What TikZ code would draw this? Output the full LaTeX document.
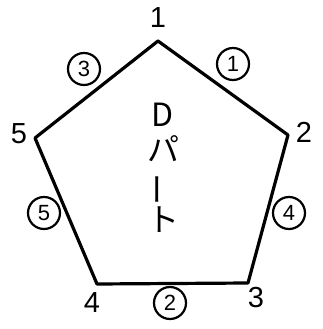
\documentclass[tikz,border=0pt]{standalone}
\usepackage{fontspec}
\usepackage{graphicx}
\usepackage{tikz}
\usetikzlibrary{positioning,calc}
\newfontfamily\jpfont{Noto Sans CJK JP}
\setmainfont{Liberation Sans}

\begin{document}
\begin{tikzpicture}[x=1pt,y=-1pt, every node/.style={font=\fontsize{29}{32}\selectfont,align=center},
  side/.style={line width=3.2pt,line join=round},
  edgeno/.style={draw,circle,line width=2.2pt,minimum size=32pt,inner sep=0pt,font=\fontsize{22}{24}\selectfont}]
\useasboundingbox (0,0) rectangle (322,329);
% corners of the pentagon
\coordinate (p1) at (158,41);
\coordinate (p2) at (288,135);
\coordinate (p3) at (248,283);
\coordinate (p4) at (97,284);
\coordinate (p5) at (35,138);
\draw[side] (p1)--(p2)--(p3)--(p4)--(p5)--cycle;
% corner numbers
\node (n1) at (158,18) {1};
\node (n2) at (304,132) {2};
\node (n3) at (256,298) {3};
\node (n4) at (92,303) {4};
\node (n5) at (19,134) {5};
% edge numbers
\node[edgeno] (e1) at (233,64) {1};
\node[edgeno] (e2) at (170,303) {2};
\node[edgeno] (e3) at (84,69) {3};
\node[edgeno] (e4) at (289,213) {4};
\node[edgeno] (e5) at (44,213) {5};
% name in the middle
\node[font=\jpfont\fontsize{32}{35}\selectfont] (name) at (163,168) {D\\パ\\\rotatebox[origin=c]{90}{ー}\\ト};
\end{tikzpicture}
\end{document}
